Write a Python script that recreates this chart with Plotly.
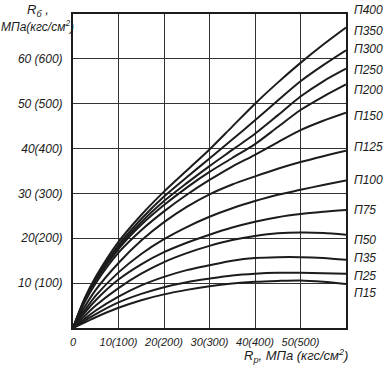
import plotly.graph_objects as go

# Rp values (MPa)
x_vals = [0, 2.5, 5, 10, 15, 20, 25, 30, 35, 40, 45, 50, 55, 60]

# Rб curves for each grade
p350 = [0, 6.5, 11.4, 19.2, 25.2, 30.4, 35.1, 39.8, 44.9, 50.0, 54.7, 59.1, 63.2, 67.0]
p300 = [0, 6.3, 11.1, 18.5, 24.3, 29.3, 33.6, 37.8, 42.0, 46.3, 50.7, 55.0, 58.6, 61.9]
p250 = [0, 6.1, 10.9, 18.0, 23.6, 28.3, 32.3, 36.1, 39.7, 43.3, 47.4, 51.6, 55.0, 57.8]
p200 = [0, 6.0, 10.6, 17.6, 23.0, 27.4, 31.3, 34.8, 37.9, 41.0, 44.8, 48.6, 51.6, 54.3]
p150 = [0, 5.6, 10.0, 16.8, 21.8, 26.0, 29.7, 33.0, 36.0, 38.6, 41.4, 44.1, 46.2, 48.0]
p125 = [0, 4.6, 8.5, 14.5, 19.5, 23.6, 27.0, 29.8, 32.0, 33.8, 35.5, 37.0, 38.3, 39.5]
p100 = [0, 3.8, 7.2, 12.4, 16.5, 19.8, 22.5, 24.8, 26.7, 28.3, 29.7, 30.8, 31.9, 32.9]
p75 = [0, 3.3, 6.2, 10.8, 14.2, 16.9, 19.0, 20.8, 22.4, 23.7, 24.7, 25.4, 25.9, 26.3]
p50 = [0, 2.6, 5.0, 8.9, 12.1, 14.7, 16.7, 18.3, 19.6, 20.5, 21.1, 21.3, 21.2, 20.8]
p35 = [0, 2.0, 3.9, 7.0, 9.5, 11.4, 12.9, 14.0, 15.0, 15.6, 15.8, 15.8, 15.6, 15.2]
p25 = [0, 1.6, 3.1, 5.7, 7.6, 9.1, 10.2, 11.0, 11.7, 12.1, 12.3, 12.3, 12.2, 12.1]
p15 = [0, 1.2, 2.4, 4.5, 6.2, 7.5, 8.5, 9.3, 9.9, 10.3, 10.5, 10.6, 10.3, 9.8]

series = [p350, p300, p250, p200, p150, p125, p100, p75, p50, p35, p25, p15]

# right-hand labels
grade_labels = ["П400", "П350", "П300", "П250", "П200", "П150", "П125",
                "П100", "П75", "П50", "П35", "П25", "П15"]
label_y = [70.8, 66.3, 62.1, 57.6, 53.1, 47.3, 40.4, 33.0, 26.3, 19.6, 15.6, 11.6, 7.8]

x_ticks = [0, 10, 20, 30, 40, 50]
x_ticktext = ["0", "10(100)", "20(200)", "30(300)", "40(400)", "50(500)"]
y_ticks = [10, 20, 30, 40, 50, 60]
y_ticktext = ["10 (100)", "20(200)", "30 (300)", "40(400)", "50 (500)", "60 (600)"]

ink = "#1c1c1c"
font_family = "Liberation Sans, Arial, sans-serif"

W, H = 386, 370
l, r, t, b = 73, 40, 14, 42
pw, ph = W - l - r, H - t - b
Y_MAX = 70


def px(xp):
    return (xp - l) / pw


def py(yp):
    return (H - b - yp) / ph


def fnt(size):
    return dict(size=size, family=font_family, color=ink, style="italic")


fig = go.Figure()
for s in series:
    fig.add_trace(go.Scatter(x=x_vals, y=s, mode="lines",
                             line=dict(color=ink, width=2, shape="spline", smoothing=0.8),
                             hoverinfo="skip"))

for lab, yv in zip(grade_labels, label_y):
    fig.add_annotation(x=px(352), y=yv / Y_MAX, xref="paper", yref="paper", text=lab,
                       showarrow=False, xanchor="left", yanchor="middle", font=fnt(12))

fig.add_annotation(x=px(38), y=py(10), xref="paper", yref="paper",
                   text="R<sub>б</sub> ,", showarrow=False, xanchor="center", yanchor="middle",
                   font=fnt(13))
fig.add_annotation(x=px(37), y=py(26), xref="paper", yref="paper",
                   text="МПа(кгс/см<sup>2</sup>)", showarrow=False, xanchor="center", yanchor="middle",
                   font=fnt(12))
fig.add_annotation(x=px(296), y=py(356), xref="paper", yref="paper",
                   text="R<sub>р</sub>, МПа (кгс/см<sup>2</sup>)", showarrow=False,
                   xanchor="center", yanchor="middle", font=fnt(13))

fig.update_layout(
    width=W, height=H,
    margin=dict(l=l, r=r, t=t, b=b, autoexpand=False),
    plot_bgcolor="white", paper_bgcolor="white",
    showlegend=False,
    font=fnt(12),
)
fig.update_xaxes(range=[0, 60], tickvals=x_ticks, ticktext=x_ticktext,
                 showgrid=True, gridcolor="#333", gridwidth=1.3,
                 showline=True, linecolor=ink, linewidth=2, mirror=True,
                 zeroline=False, ticks="", ticklabelstandoff=3, automargin=False,
                 tickangle=0, tickfont=fnt(11))
fig.update_yaxes(range=[0, Y_MAX], tickvals=y_ticks, ticktext=y_ticktext,
                 showgrid=True, gridcolor="#333", gridwidth=1.3,
                 showline=True, linecolor=ink, linewidth=2, mirror=True,
                 zeroline=False, ticks="", ticklabelstandoff=6, automargin=False,
                 tickfont=fnt(12))

fig.write_html("out.html", config={"displayModeBar": False},
               post_script="document.body.style.margin='0';")
